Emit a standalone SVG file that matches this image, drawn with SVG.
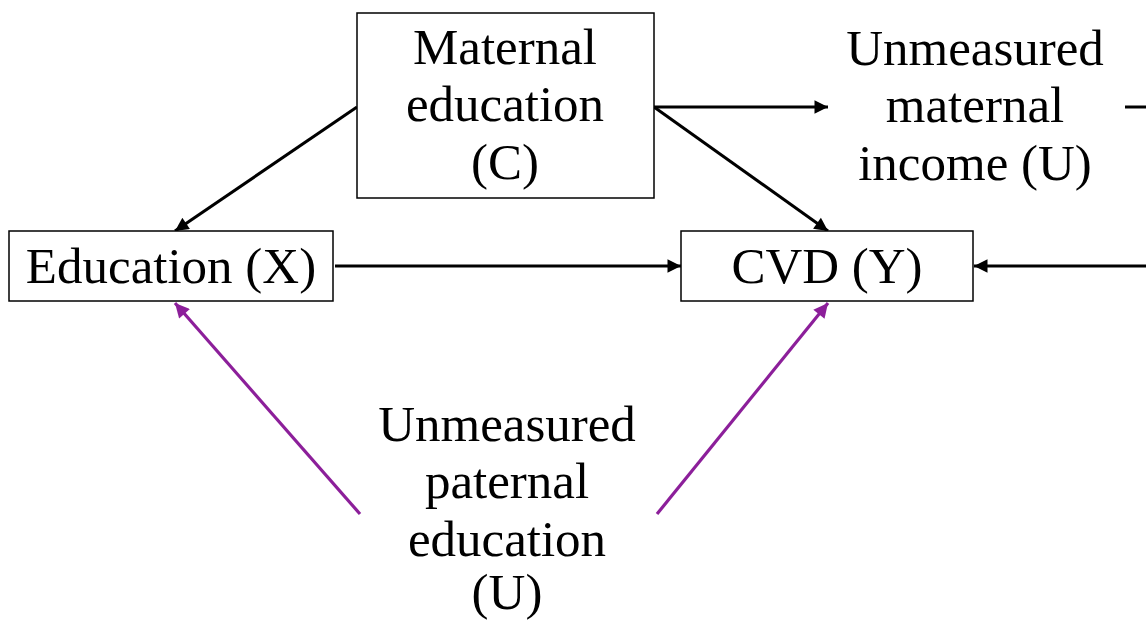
<svg xmlns="http://www.w3.org/2000/svg" width="1146" height="620" viewBox="0 0 1146 620">
  <style>
    .box { fill: #ffffff; stroke: #000000; stroke-width: 1.5; }
    .lbl { font-family: "Liberation Serif", "DejaVu Serif", serif; font-size: 51px; fill: #000000; text-anchor: middle; }
    .edge { stroke: #000000; stroke-width: 3; fill: none; }
    .edge-u { stroke: #8c1f9a; stroke-width: 3.2; fill: none; }
  </style>
  <defs>
    <marker id="ah" viewBox="0 0 10 10" refX="10" refY="5" markerWidth="5" markerHeight="4.5" orient="auto" markerUnits="strokeWidth">
      <path d="M0,0 L10,5 L0,10 z" fill="#000000"/>
    </marker>
    <marker id="ah-u" viewBox="0 0 10 10" refX="10" refY="5" markerWidth="5" markerHeight="4.5" orient="auto" markerUnits="strokeWidth">
      <path d="M0,0 L10,5 L0,10 z" fill="#8c1f9a"/>
    </marker>
  </defs>

  <g id="connectors">
    <line class="edge" x1="357" y1="107" x2="175" y2="231" marker-end="url(#ah)"/>
    <line class="edge" x1="654" y1="107" x2="828" y2="107" marker-end="url(#ah)"/>
    <line class="edge" x1="654" y1="107" x2="828" y2="231" marker-end="url(#ah)"/>
    <line class="edge" x1="335" y1="266" x2="681" y2="266" marker-end="url(#ah)"/>
    <line class="edge" x1="1146" y1="266" x2="974" y2="266" marker-end="url(#ah)"/>
    <line class="edge" x1="1125" y1="107" x2="1146" y2="107"/>
    <line class="edge-u" x1="360" y1="514" x2="175" y2="303" marker-end="url(#ah-u)"/>
    <line class="edge-u" x1="657" y1="514" x2="828" y2="303" marker-end="url(#ah-u)"/>
  </g>

  <g id="maternal-education">
    <rect class="box" x="357" y="13" width="297" height="185"/>
    <text class="lbl" x="505" y="64">Maternal</text>
    <text class="lbl" x="505" y="121">education</text>
    <text class="lbl" x="505" y="179">(C)</text>
  </g>

  <g id="maternal-income">
    <text class="lbl" x="975" y="65">Unmeasured</text>
    <text class="lbl" x="975" y="122">maternal</text>
    <text class="lbl" x="975" y="180">income (U)</text>
  </g>

  <g id="education-x">
    <rect class="box" x="9" y="231" width="324" height="70"/>
    <text class="lbl" x="171" y="283">Education (X)</text>
  </g>

  <g id="cvd-y">
    <rect class="box" x="681" y="231" width="292" height="70"/>
    <text class="lbl" x="827" y="283">CVD (Y)</text>
  </g>

  <g id="paternal-education">
    <text class="lbl" x="507" y="441">Unmeasured</text>
    <text class="lbl" x="507" y="498">paternal</text>
    <text class="lbl" x="507" y="556">education</text>
    <text class="lbl" x="507" y="609">(U)</text>
  </g>
</svg>
